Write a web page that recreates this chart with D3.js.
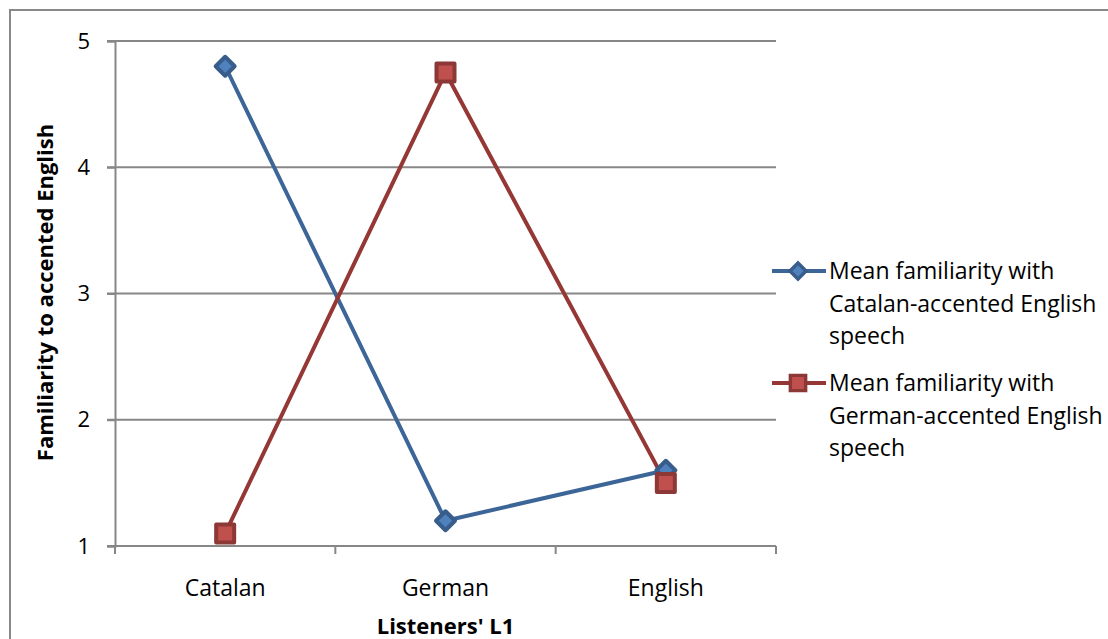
<!DOCTYPE html>
<html>
<head>
<meta charset="utf-8">
<script src="https://cdn.jsdelivr.net/npm/d3@7"></script>
<style>
  html, body { margin: 0; padding: 0; background: #fff; }
  svg { display: block; font-family: "Open Sans", sans-serif; }
</style>
</head>
<body>
<svg id="chart" width="1108" height="639"></svg>
<script>
const categories = ["Catalan", "German", "English"];
const catalanAccent = [4.8, 1.2, 1.6];
const germanAccent = [1.1, 4.75, 1.5];
const seriesNames = [
  ["Mean familiarity with", "Catalan-accented English", "speech"],
  ["Mean familiarity with", "German-accented English", "speech"]
];
const yTicks = [1, 2, 3, 4, 5];
const xTitle = "Listeners' L1";
const yTitle = "Familiarity to accented English";

const svg = d3.select("#chart");
const W = 1108, H = 639;
const plot = { left: 115, right: 776, top: 41, bottom: 546 };
const gridColor = "#878787";

// outer chart border (only top & left visible)
svg.append("rect").attr("x", 10).attr("y", 10).attr("width", W + 20).attr("height", H + 20)
  .attr("fill", "#fff").attr("stroke", "#898989").attr("stroke-width", 2);

const x = d3.scalePoint().domain(categories).range([plot.left, plot.right]).padding(0.5);
const xBand = d3.scaleBand().domain(categories).range([plot.left, plot.right]);
const y = d3.scaleLinear().domain([1, 5]).range([plot.bottom, plot.top]);

// gridlines
svg.append("g").selectAll("line").data(yTicks.filter(t => t > 1)).join("line")
  .attr("x1", plot.left - 8).attr("x2", plot.right)
  .attr("y1", d => y(d)).attr("y2", d => y(d))
  .attr("stroke", gridColor).attr("stroke-width", 2);

// y axis
const yAxis = svg.append("g").attr("transform", `translate(${plot.left},0)`)
  .call(d3.axisLeft(y).tickValues(yTicks).tickFormat(d3.format("d")).tickSize(8).tickPadding(17));
yAxis.select(".domain").attr("stroke", gridColor).attr("stroke-width", 2);
yAxis.selectAll(".tick line").attr("stroke", gridColor).attr("stroke-width", 2);
yAxis.selectAll(".tick text").attr("font-size", 22).attr("fill", "#000")
  .attr("font-family", "Open Sans");

// x axis
const xAxisG = svg.append("g").attr("transform", `translate(0,${plot.bottom})`);
xAxisG.append("line").attr("x1", plot.left - 8).attr("x2", plot.right)
  .attr("y1", 0).attr("y2", 0).attr("stroke", gridColor).attr("stroke-width", 2);
const bounds = categories.map(c => xBand(c)).concat([plot.right]);
xAxisG.selectAll("line.tk").data(bounds).join("line").attr("class", "tk")
  .attr("x1", d => d).attr("x2", d => d).attr("y1", 0).attr("y2", 8)
  .attr("stroke", gridColor).attr("stroke-width", 2);
xAxisG.selectAll("text").data(categories).join("text")
  .attr("x", d => x(d)).attr("y", 50).attr("text-anchor", "middle")
  .attr("font-size", 23).attr("fill", "#000").text(d => d);

// axis titles
svg.append("text").attr("x", x(categories[1])).attr("y", 634).attr("text-anchor", "middle")
  .attr("font-size", 22).attr("font-weight", "bold").attr("fill", "#000").text(xTitle);
svg.append("text").attr("transform", `translate(53,${(plot.top + plot.bottom) / 2 - 1}) rotate(-90)`)
  .attr("text-anchor", "middle").attr("font-size", 22).attr("font-weight", "bold")
  .attr("fill", "#000").text(yTitle);

const series = [
  { values: catalanAccent, line: "#3C6697", fill: "#4F81BD", stroke: "#385D8A", shape: "diamond" },
  { values: germanAccent, line: "#953735", fill: "#C0504D", stroke: "#8C3836", shape: "square" }
];

function markerPath(shape) {
  if (shape === "diamond") { const r = 9.5; return `M0,${-r}L${r},0L0,${r}L${-r},0Z`; }
  const s = 9; return `M${-s},${-s}H${s}V${s}H${-s}Z`;
}

const line = d3.line().x((d, i) => x(categories[i])).y(d => y(d));

series.forEach(s => {
  svg.append("path").datum(s.values).attr("d", line).attr("fill", "none")
    .attr("stroke", s.line).attr("stroke-width", 4).attr("stroke-linejoin", "round");
});
series.forEach(s => {
  svg.append("g").selectAll("path").data(s.values).join("path")
    .attr("transform", (d, i) => `translate(${x(categories[i])},${y(d)})`)
    .attr("d", markerPath(s.shape)).attr("fill", s.fill)
    .attr("stroke", s.stroke).attr("stroke-width", 4).attr("stroke-linejoin", "round");
});

// legend
const legendY = [271, 383];
series.forEach((s, i) => {
  const g = svg.append("g").attr("transform", `translate(0,${legendY[i]})`);
  g.append("line").attr("x1", 772).attr("x2", 826).attr("y1", 0).attr("y2", 0)
    .attr("stroke", s.line).attr("stroke-width", 4);
  g.append("path").attr("transform", "translate(798,0) scale(0.85)").attr("d", markerPath(s.shape))
    .attr("fill", s.fill).attr("stroke", s.stroke).attr("stroke-width", 4);
  const t = g.append("text").attr("x", 829).attr("y", 8).attr("font-size", 23).attr("fill", "#000");
  seriesNames[i].forEach((ln, j) => {
    t.append("tspan").attr("x", 829).attr("dy", j === 0 ? 0 : 32.5).text(ln);
  });
});
</script>
</body>
</html>
